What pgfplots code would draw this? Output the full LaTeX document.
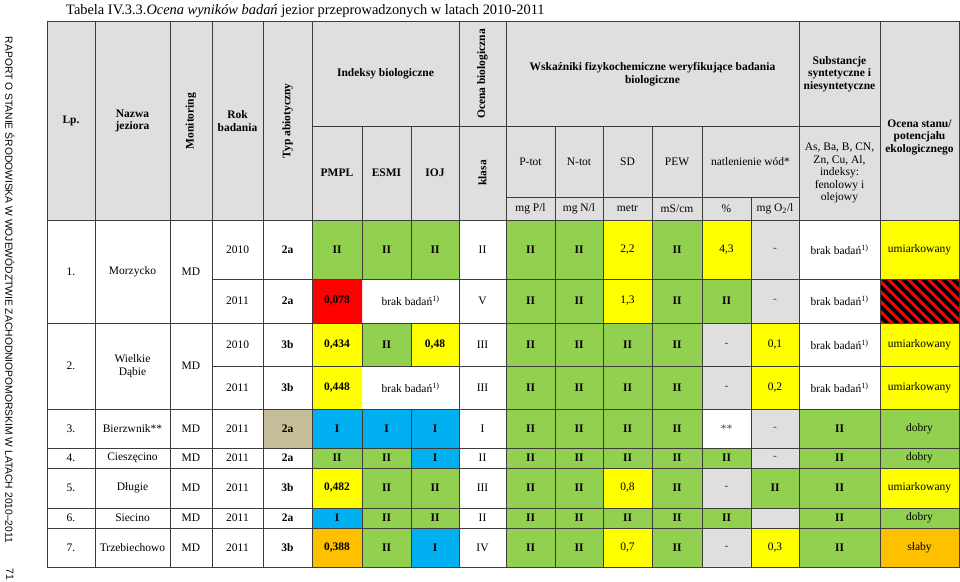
\documentclass[border=0pt]{standalone}
\usepackage{fontspec}
\setmainfont{Liberation Serif}
\newfontfamily\sansf{Liberation Sans}
\usepackage{pgfplots}
\pgfplotsset{compat=1.18}
\definecolor{cg}{HTML}{92D050}
\definecolor{cy}{HTML}{FFFF00}
\definecolor{cr}{HTML}{FF0000}
\definecolor{cb}{HTML}{00B0F0}
\definecolor{co}{HTML}{FFC000}
\definecolor{ch}{HTML}{DFDFDF}
\definecolor{ct}{HTML}{C4BD97}
\definecolor{lncol}{HTML}{3C3C3C}
\newcommand\myfs{\fontsize{11.5bp}{12.5bp}\selectfont}
\pgfplotsset{
  labstyle/.style={draw=none, mark=none, nodes near coords={\pgfplotspointmeta},
    point meta=explicit symbolic,
    every node near coord/.append style={font=\myfs, align=center, inner sep=0pt, anchor=center}},
  cellfill/.style={fill=#1, draw=none, unbounded coords=jump},
}
\begin{document}
\begin{tikzpicture}
\begin{axis}[scale only axis, width=960bp, height=581bp,
  xmin=0, xmax=960, ymin=0, ymax=581, y dir=reverse,
  hide axis, clip=false]
% background and header
\addplot[fill=white, draw=none] coordinates {(0,0) (960,0) (960,581) (0,581)};
\addplot[cellfill=ch] coordinates {(47,22) (959,22) (959,220) (47,220) (nan,nan)
 (751,220) (799,220) (799,279) (751,279) (nan,nan)
 (751,279) (799,279) (799,323) (751,323) (nan,nan)
 (702,323) (751,323) (751,366) (702,366) (nan,nan)
 (702,366) (751,366) (751,409) (702,409) (nan,nan)
 (751,409) (799,409) (799,448) (751,448) (nan,nan)
 (751,448) (799,448) (799,468) (751,468) (nan,nan)
 (702,468) (751,468) (751,508) (702,508) (nan,nan)
 (751,508) (799,508) (799,528) (751,528) (nan,nan)
 (702,528) (751,528) (751,567) (702,567)};
% green cells
\addplot[cellfill=cg] coordinates {
 (312,220) (459,220) (459,279) (312,279) (nan,nan)
 (506,220) (603,220) (603,279) (506,279) (nan,nan)
 (652,220) (702,220) (702,279) (652,279) (nan,nan)
 (506,279) (603,279) (603,323) (506,323) (nan,nan)
 (652,279) (751,279) (751,323) (652,323) (nan,nan)
 (362,323) (411,323) (411,366) (362,366) (nan,nan)
 (506,323) (702,323) (702,366) (506,366) (nan,nan)
 (506,366) (702,366) (702,409) (506,409) (nan,nan)
 (506,409) (702,409) (702,448) (506,448) (nan,nan)
 (799,409) (959,409) (959,448) (799,448) (nan,nan)
 (312,448) (411,448) (411,468) (312,468) (nan,nan)
 (506,448) (751,448) (751,468) (506,468) (nan,nan)
 (799,448) (959,448) (959,468) (799,468) (nan,nan)
 (362,468) (459,468) (459,508) (362,508) (nan,nan)
 (506,468) (603,468) (603,508) (506,508) (nan,nan)
 (652,468) (702,468) (702,508) (652,508) (nan,nan)
 (751,468) (880,468) (880,508) (751,508) (nan,nan)
 (362,508) (459,508) (459,528) (362,528) (nan,nan)
 (506,508) (751,508) (751,528) (506,528) (nan,nan)
 (799,508) (959,508) (959,528) (799,528) (nan,nan)
 (362,528) (411,528) (411,567) (362,567) (nan,nan)
 (506,528) (603,528) (603,567) (506,567) (nan,nan)
 (652,528) (702,528) (702,567) (652,567) (nan,nan)
 (799,528) (880,528) (880,567) (799,567)};
% yellow cells
\addplot[cellfill=cy] coordinates {
 (603,220) (652,220) (652,279) (603,279) (nan,nan)
 (702,220) (751,220) (751,279) (702,279) (nan,nan)
 (880,220) (959,220) (959,279) (880,279) (nan,nan)
 (603,279) (652,279) (652,323) (603,323) (nan,nan)
 (312,323) (362,323) (362,366) (312,366) (nan,nan)
 (411,323) (459,323) (459,366) (411,366) (nan,nan)
 (751,323) (799,323) (799,366) (751,366) (nan,nan)
 (880,323) (959,323) (959,409) (880,409) (nan,nan)
 (312,366) (362,366) (362,409) (312,409) (nan,nan)
 (751,366) (799,366) (799,409) (751,409) (nan,nan)
 (312,468) (362,468) (362,508) (312,508) (nan,nan)
 (603,468) (652,468) (652,508) (603,508) (nan,nan)
 (880,468) (959,468) (959,508) (880,508) (nan,nan)
 (603,528) (652,528) (652,567) (603,567) (nan,nan)
 (751,528) (799,528) (799,567) (751,567)};
% red, blue, orange, tan cells
\addplot[cellfill=cr] coordinates {
 (312,279) (362,279) (362,323) (312,323) (nan,nan)
 (880,279) (959,279) (959,323) (880,323)};
\addplot[cellfill=cb] coordinates {
 (312,409) (459,409) (459,448) (312,448) (nan,nan)
 (411,448) (459,448) (459,468) (411,468) (nan,nan)
 (312,508) (362,508) (362,528) (312,528) (nan,nan)
 (411,528) (459,528) (459,567) (411,567)};
\addplot[cellfill=co] coordinates {
 (312,528) (362,528) (362,567) (312,567) (nan,nan)
 (880,528) (959,528) (959,567) (880,567)};
\addplot[cellfill=ct] coordinates {(263,409) (312,409) (312,448) (263,448)};
% grid lines
\addplot[lncol, line width=1bp, line cap=rect, unbounded coords=jump] coordinates {
 (47,22) (959,22) (nan,nan)
 (312,126) (880,126) (nan,nan)
 (506,197) (799,197) (nan,nan)
 (47,220) (959,220) (nan,nan)
 (212,279) (959,279) (nan,nan)
 (47,323) (959,323) (nan,nan)
 (212,366) (959,366) (nan,nan)
 (47,409) (959,409) (nan,nan)
 (47,448) (959,448) (nan,nan)
 (47,468) (959,468) (nan,nan)
 (47,508) (959,508) (nan,nan)
 (47,528) (959,528) (nan,nan)
 (47,567) (959,567) (nan,nan)
 (47,22) (47,567) (nan,nan)
 (95,22) (95,567) (nan,nan)
 (170,22) (170,567) (nan,nan)
 (212,22) (212,567) (nan,nan)
 (263,22) (263,567) (nan,nan)
 (312,22) (312,567) (nan,nan)
 (362,126) (362,279) (nan,nan)
 (362,323) (362,366) (nan,nan)
 (362,409) (362,567) (nan,nan)
 (411,126) (411,279) (nan,nan)
 (411,323) (411,366) (nan,nan)
 (411,409) (411,567) (nan,nan)
 (459,22) (459,567) (nan,nan)
 (506,22) (506,567) (nan,nan)
 (555,126) (555,567) (nan,nan)
 (603,126) (603,567) (nan,nan)
 (652,126) (652,567) (nan,nan)
 (702,126) (702,567) (nan,nan)
 (751,197) (751,567) (nan,nan)
 (799,22) (799,567) (nan,nan)
 (880,22) (880,567) (nan,nan)
 (959,22) (959,567)};
% title
\addplot[labstyle, every node near coord/.append style={anchor=base west, font=\fontsize{14.4bp}{16bp}\selectfont}]
 table[x=x, y=y, meta=lab, col sep=semicolon] {
x;y;lab
66;15;Tabela IV.3.3.\textit{Ocena wyników badań} jezior przeprowadzonych w latach 2010-2011
};
% margin text
\addplot[labstyle, every node near coord/.append style={rotate=-90, font=\sansf\fontsize{10.3bp}{12bp}\selectfont}]
 table[x=x, y=y, meta=lab, col sep=semicolon] {
x;y;lab
10;290;RAPORT O STANIE ŚRODOWISKA W WOJEWÓDZTWIE ZACHODNIOPOMORSKIM W LATACH 2010–2011
10;574;71
};
% rotated header labels
\addplot[labstyle, every node near coord/.append style={rotate=90, font=\myfs\bfseries}]
 table[x=x, y=y, meta=lab, col sep=semicolon] {
x;y;lab
191;121;Monitoring
287.5;121;Typ abiotyczny
482.5;74;Ocena biologiczna
482.5;173;klasa
};
% gray texts
\addplot[labstyle, every node near coord/.append style={text=darkgray}]
 table[x=x, y=y, meta=lab, col sep=semicolon] {
x;y;lab
775;249.5;-
775;301;-
726.5;344.5;-
726.5;387.5;-
775;428.5;-
726.5;428.5;**
775;458;-
726.5;488;-
726.5;547.5;-
};
% all other texts
\addplot[labstyle]
 table[x=x, y=y, meta=lab, col sep=semicolon] {
x;y;lab
71;121;\textbf{Lp.}
132.5;121;\textbf{Nazwa}\\\textbf{jeziora}
237.5;121;\textbf{Rok}\\\textbf{badania}
385.5;74;\textbf{Indeksy biologiczne}
337;173;\textbf{PMPL}
386.5;173;\textbf{ESMI}
435;173;\textbf{IOJ}
652.5;74;\textbf{Wskaźniki fizykochemiczne weryfikujące badania}\\\textbf{biologiczne}
530.5;161.5;P-tot
579;161.5;N-tot
627.5;161.5;SD
677;161.5;PEW
750.5;161.5;natlenienie wód*
530.5;208.5;mg P/l
579;208.5;mg N/l
627.5;208.5;metr
677;208.5;mS/cm
726.5;208.5;\%
775;208.5;mg O\textsubscript{2}/l
839.5;74;\textbf{Substancje}\\\textbf{syntetyczne i}\\\textbf{niesyntetyczne}
839.5;173;As, Ba, B, CN,\\Zn, Cu, Al,\\indeksy:\\fenolowy i\\olejowy
919.5;137;\textbf{Ocena stanu/}\\\textbf{potencjału}\\\textbf{ekologicznego}
71;271.5;1.
132.5;271.5;Morzycko
191;271.5;MD
237.5;249.5;2010
287.5;249.5;\textbf{2a}
337;249.5;\textbf{II}
386.5;249.5;\textbf{II}
435;249.5;\textbf{II}
482.5;249.5;II
530.5;249.5;\textbf{II}
579;249.5;\textbf{II}
627.5;249.5;2,2
677;249.5;\textbf{II}
726.5;249.5;4,3
839.5;249.5;brak badań\textsuperscript{1)}
919.5;249.5;umiarkowany
237.5;301;2011
287.5;301;\textbf{2a}
337;301;\textbf{0,078}
410.5;301;brak badań\textsuperscript{1)}
482.5;301;V
530.5;301;\textbf{II}
579;301;\textbf{II}
627.5;301;1,3
677;301;\textbf{II}
726.5;301;\textbf{II}
839.5;301;brak badań\textsuperscript{1)}
71;366;2.
132.5;366;Wielkie\\Dąbie
191;366;MD
237.5;344.5;2010
287.5;344.5;\textbf{3b}
337;344.5;\textbf{0,434}
386.5;344.5;\textbf{II}
435;344.5;\textbf{0,48}
482.5;344.5;III
530.5;344.5;\textbf{II}
579;344.5;\textbf{II}
627.5;344.5;\textbf{II}
677;344.5;\textbf{II}
775;344.5;0,1
839.5;344.5;brak badań\textsuperscript{1)}
919.5;344.5;umiarkowany
237.5;387.5;2011
287.5;387.5;\textbf{3b}
337;387.5;\textbf{0,448}
410.5;387.5;brak badań\textsuperscript{1)}
482.5;387.5;III
530.5;387.5;\textbf{II}
579;387.5;\textbf{II}
627.5;387.5;\textbf{II}
677;387.5;\textbf{II}
775;387.5;0,2
839.5;387.5;brak badań\textsuperscript{1)}
919.5;387.5;umiarkowany
71;428.5;3.
132.5;428.5;Bierzwnik**
191;428.5;MD
237.5;428.5;2011
287.5;428.5;\textbf{2a}
337;428.5;\textbf{I}
386.5;428.5;\textbf{I}
435;428.5;\textbf{I}
482.5;428.5;I
530.5;428.5;\textbf{II}
579;428.5;\textbf{II}
627.5;428.5;\textbf{II}
677;428.5;\textbf{II}
839.5;428.5;\textbf{II}
919.5;428.5;dobry
71;458;4.
132.5;458;Cieszęcino
191;458;MD
237.5;458;2011
287.5;458;\textbf{2a}
337;458;\textbf{II}
386.5;458;\textbf{II}
435;458;\textbf{I}
482.5;458;II
530.5;458;\textbf{II}
579;458;\textbf{II}
627.5;458;\textbf{II}
677;458;\textbf{II}
726.5;458;\textbf{II}
839.5;458;\textbf{II}
919.5;458;dobry
71;488;5.
132.5;488;Długie
191;488;MD
237.5;488;2011
287.5;488;\textbf{3b}
337;488;\textbf{0,482}
386.5;488;\textbf{II}
435;488;\textbf{II}
482.5;488;III
530.5;488;\textbf{II}
579;488;\textbf{II}
627.5;488;0,8
677;488;\textbf{II}
775;488;\textbf{II}
839.5;488;\textbf{II}
919.5;488;umiarkowany
71;518;6.
132.5;518;Siecino
191;518;MD
237.5;518;2011
287.5;518;\textbf{2a}
337;518;\textbf{I}
386.5;518;\textbf{II}
435;518;\textbf{II}
482.5;518;II
530.5;518;\textbf{II}
579;518;\textbf{II}
627.5;518;\textbf{II}
677;518;\textbf{II}
726.5;518;\textbf{II}
839.5;518;\textbf{II}
919.5;518;dobry
71;547.5;7.
132.5;547.5;Trzebiechowo
191;547.5;MD
237.5;547.5;2011
287.5;547.5;\textbf{3b}
337;547.5;\textbf{0,388}
386.5;547.5;\textbf{II}
435;547.5;\textbf{I}
482.5;547.5;IV
530.5;547.5;\textbf{II}
579;547.5;\textbf{II}
627.5;547.5;0,7
677;547.5;\textbf{II}
775;547.5;0,3
839.5;547.5;\textbf{II}
919.5;547.5;słaby
};
\end{axis}
% hatched cell: stripes clipped to the cell by a second axis
\begin{axis}[at={(880bp,258bp)}, anchor=south west, scale only axis,
  width=79bp, height=44bp, xmin=880, xmax=959, ymin=279, ymax=323,
  y dir=reverse, hide axis]
\addplot[black, line width=3.6bp, unbounded coords=jump] coordinates {
 (860,176) (1000,316) (nan,nan) (860,186) (1000,326) (nan,nan)
 (860,196) (1000,336) (nan,nan) (860,206) (1000,346) (nan,nan)
 (860,216) (1000,356) (nan,nan) (860,226) (1000,366) (nan,nan)
 (860,236) (1000,376) (nan,nan) (860,246) (1000,386) (nan,nan)
 (860,256) (1000,396) (nan,nan) (860,266) (1000,406) (nan,nan)
 (860,276) (1000,416) (nan,nan) (860,286) (1000,426) (nan,nan)
 (860,296) (1000,436) (nan,nan) (860,306) (1000,446) (nan,nan)
 (860,316) (1000,456) (nan,nan) (860,326) (1000,466) (nan,nan)
 (860,336) (1000,476)};
\addplot[lncol, line width=1bp, line cap=rect] coordinates {(880,279) (959,279) (959,323) (880,323) (880,279)};
\end{axis}
\end{tikzpicture}
\end{document}
